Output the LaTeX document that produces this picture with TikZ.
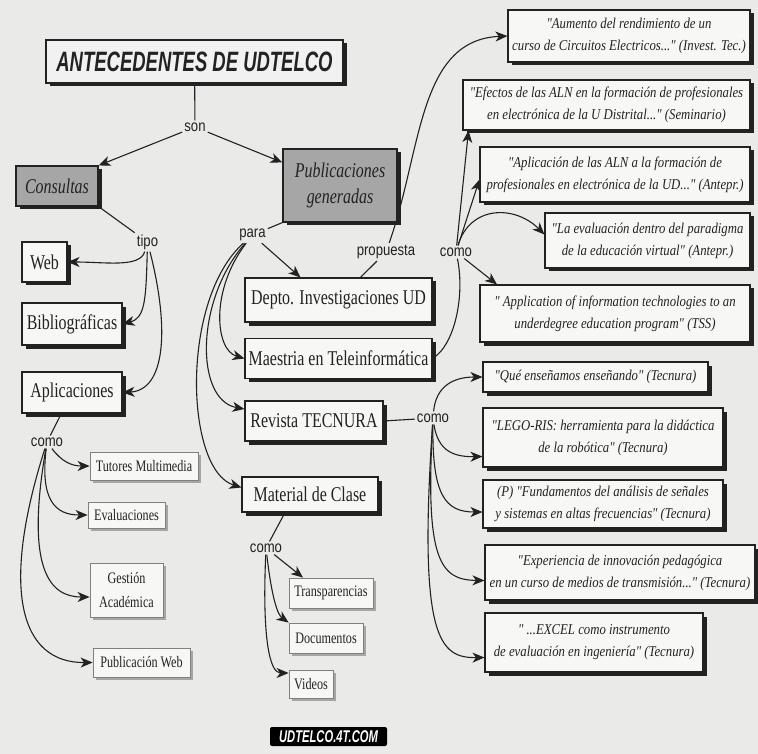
\documentclass[tikz,border=0pt]{standalone}
\usepackage{fontspec}
\setmainfont{Liberation Serif}
\newfontfamily\boxfont[FakeStretch=0.76]{Liberation Serif}
\newfontfamily\papfont[FakeStretch=0.85]{Liberation Serif}
\newfontfamily\labfont[FakeStretch=0.82]{Liberation Sans}
\newfontfamily\titfont[FakeStretch=0.66]{Liberation Sans}
\usetikzlibrary{arrows.meta,shadows}
\definecolor{paper}{HTML}{EAEAE8}
\definecolor{boxfill}{HTML}{F7F7F5}
\definecolor{titlefill}{HTML}{F1F1F1}
\definecolor{darkfill}{HTML}{A6A6A6}
\definecolor{ink}{HTML}{222222}

\begin{document}
\begin{tikzpicture}[x=1pt, y=-1pt, >={Stealth[length=12pt, width=10pt, inset=3.5pt]}]
	\tikzstyle{box} = [draw=ink, fill=boxfill, text=ink, inner sep=0pt, align=center]
	\tikzstyle{mainbox} = [box, line width=1.1pt, drop shadow={shadow xshift=3.5pt, shadow yshift=-3.5pt, fill=ink, opacity=1}, font=\boxfont\fontsize{21}{24}\selectfont]
	\tikzstyle{greybox} = [mainbox, fill=darkfill, font=\boxfont\itshape\fontsize{21}{26}\selectfont]
	\tikzstyle{smallbox} = [box, draw=gray, line width=.8pt, drop shadow={shadow xshift=3pt, shadow yshift=-3pt, fill=gray!70, opacity=1}, font=\boxfont\fontsize{16}{24}\selectfont]
	\tikzstyle{paperbox} = [mainbox, font=\papfont\itshape\fontsize{15}{22}\selectfont]
	\tikzstyle{linkword} = [font=\labfont\fontsize{16}{18}\selectfont, text=ink, inner sep=2pt]
	\tikzstyle{conn} = [draw=ink, line width=1.1pt]
	\useasboundingbox (0,0) rectangle (758,754);
	\fill[paper] (0,0) rectangle (758,754);
	\node[mainbox, fill=titlefill, line width=1.4pt, font=\titfont\bfseries\itshape\fontsize{28}{30}\selectfont, minimum width=297pt, minimum height=43pt] (Title) at (194.5,61.5) {ANTECEDENTES DE UDTELCO};
	\node[greybox, minimum width=82pt, minimum height=40pt] (Consultas) at (57,186) {Consultas};
	\node[greybox, minimum width=114pt, minimum height=73pt] (Publicaciones) at (340,185.5) {Publicaciones\\generadas};
	\node[mainbox, minimum width=45pt, minimum height=40pt] (Web) at (44.5,262) {Web};
	\node[mainbox, minimum width=100pt, minimum height=42pt] (Bibliograficas) at (72,324) {Bibliográficas};
	\node[mainbox, minimum width=100pt, minimum height=41pt] (Aplicaciones) at (72,392.5) {Aplicaciones};
	\node[mainbox, minimum width=187pt, minimum height=44pt] (Depto) at (338.5,300) {Depto. Investigaciones UD};
	\node[mainbox, minimum width=187pt, minimum height=40pt] (Maestria) at (338.5,358.5) {Maestria en Teleinformática};
	\node[mainbox, minimum width=138pt, minimum height=40pt] (Revista) at (314,421) {Revista TECNURA};
	\node[mainbox, minimum width=136pt, minimum height=35pt] (Material) at (310,494.5) {Material de Clase};
	\node[smallbox, minimum width=108pt, minimum height=28pt] (Tutores) at (144,466) {Tutores Multimedia};
	\node[smallbox, minimum width=77pt, minimum height=26pt] (Evaluaciones) at (126.5,515) {Evaluaciones};
	\node[smallbox, minimum width=73pt, minimum height=54pt] (Gestion) at (126.5,590) {Gestión\\Académica};
	\node[smallbox, minimum width=97pt, minimum height=29pt] (PubWeb) at (141.5,662.5) {Publicación Web};
	\node[smallbox, minimum width=84pt, minimum height=30pt] (Transparencias) at (331,593) {Transparencias};
	\node[smallbox, minimum width=74pt, minimum height=30pt] (Documentos) at (326,638) {Documentos};
	\node[smallbox, minimum width=44pt, minimum height=28pt] (Videos) at (311,684) {Videos};
	\node[fill=black, rounded corners=2pt, text=white, inner sep=0pt, minimum width=117pt, minimum height=19pt, font=\titfont\bfseries\itshape\fontsize{17}{19}\selectfont] (Logo) at (328.5,736.5) {UDTELCO.4T.COM};
	\node[paperbox, minimum width=242pt, minimum height=52pt] (Aumento) at (629,36) {"Aumento del rendimiento de un\\curso de Circuitos Electricos..." (Invest. Tec.)};
	\node[paperbox, minimum width=287pt, minimum height=50pt] (Efectos) at (606.5,105) {"Efectos de las ALN en la formación de profesionales\\en electrónica de la U Distrital..." (Seminario)};
	\node[paperbox, minimum width=270pt, minimum height=55pt] (AplicacionALN) at (615,174.5) {"Aplicación de las ALN a la formación de\\profesionales en electrónica de la UD..." (Antepr.)};
	\node[paperbox, minimum width=205pt, minimum height=55pt] (Evaluacion) at (647.5,240.5) {"La evaluación dentro del paradigma\\de la educación virtual" (Antepr.)};
	\node[paperbox, minimum width=270pt, minimum height=57pt] (Application) at (615,313.5) {" Application of information technologies to an\\underdegree education program" (TSS)};
	\node[paperbox, minimum width=225pt, minimum height=30pt] (Que) at (595.5,377) {"Qué enseñamos enseñando" (Tecnura)};
	\node[paperbox, minimum width=240pt, minimum height=59pt] (Lego) at (603,437.5) {"LEGO-RIS: herramienta para la didáctica\\de la robótica" (Tecnura)};
	\node[paperbox, minimum width=240pt, minimum height=48pt] (Fundamentos) at (603,504) {(P) "Fundamentos del análisis de señales\\y sistemas en altas frecuencias" (Tecnura)};
	\node[paperbox, minimum width=270pt, minimum height=55pt] (Experiencia) at (620,572.5) {"Experiencia de innovación pedagógica\\en un curso de medios de transmisión..." (Tecnura)};
	\node[paperbox, minimum width=218pt, minimum height=59pt] (Excel) at (594,642.5) {" ...EXCEL como instrumento\\de evaluación en ingeniería" (Tecnura)};
	\node[linkword] (Son) at (195,127) {son};
	\node[linkword] (Tipo) at (147.5,242) {tipo};
	\node[linkword] (Para) at (252.5,235) {para};
	\node[linkword] (Propuesta) at (386,252) {propuesta};
	\node[linkword] (ComoPub) at (456,252) {como};
	\node[linkword] (ComoRev) at (433,418) {como};
	\node[linkword] (ComoApl) at (47,442) {como};
	\node[linkword] (ComoMat) at (266,548) {como};
	\draw[conn] (Title) -- (Son);
	\draw[conn, ->] (Son) -- (Consultas.north east);
	\draw[conn, ->] (Son) -- ([yshift=-14pt]Publicaciones.north west);
	\draw[conn] (Consultas.south east) -- (Tipo);
	\draw[conn, ->] (Tipo) .. controls (140,268) and (105,262) .. (Web.east);
	\draw[conn, ->] (Tipo) .. controls (146,300) and (145,318) .. (Bibliograficas.east);
	\draw[conn, ->] (Tipo) .. controls (170,330) and (165,390) .. (Aplicaciones.east);
	\draw[conn] (Publicaciones.south west) -- (Para);
	\draw[conn, ->] (Para) -- ([xshift=-38pt]Depto.north);
	\draw[conn, ->] (Para) .. controls (210,290) and (215,350) .. (Maestria.west);
	\draw[conn, ->] (Para) .. controls (195,300) and (195,400) .. ([yshift=12pt]Revista.west);
	\draw[conn, ->] (Para) .. controls (180,300) and (185,470) .. ([yshift=7pt]Material.west);
	\draw[conn] ([xshift=22pt]Depto.north) -- (Propuesta);
	\draw[conn, ->] (Propuesta) .. controls (422,150) and (418,40) .. (Aumento.west);
	\draw[conn] (Maestria.east) .. controls (455,345) and (465,295) .. (ComoPub);
	\draw[conn, ->] (ComoPub) -- ([xshift=-138pt]Efectos.south);
	\draw[conn, ->] (ComoPub) -- ([yshift=-5pt]AplicacionALN.west);
	\draw[conn, ->] (ComoPub) .. controls (470,205) and (515,205) .. ([yshift=6pt]Evaluacion.west);
	\draw[conn, ->] (ComoPub) -- ([xshift=-118pt]Application.north);
	\draw[conn] (Revista.east) -- (ComoRev);
	\draw[conn, ->] (ComoRev) .. controls (436,385) and (455,377) .. (Que.west);
	\draw[conn, ->] (ComoRev) .. controls (438,452) and (455,457) .. ([yshift=-19pt]Lego.west);
	\draw[conn, ->] (ComoRev) .. controls (432,495) and (445,512) .. ([yshift=-8pt]Fundamentos.west);
	\draw[conn, ->] (ComoRev) .. controls (425,560) and (440,580) .. ([yshift=-8pt]Experiencia.west);
	\draw[conn, ->] (ComoRev) .. controls (418,640) and (440,658) .. ([yshift=-15pt]Excel.west);
	\draw[conn] (Aplicaciones) -- (ComoApl);
	\draw[conn, ->] (ComoApl) .. controls (62,462) and (72,466) .. (Tutores.west);
	\draw[conn, ->] (ComoApl) .. controls (40,500) and (55,515) .. (Evaluaciones.west);
	\draw[conn, ->] (ComoApl) .. controls (25,570) and (50,597) .. ([yshift=-7pt]Gestion.west);
	\draw[conn, ->] (ComoApl) .. controls (0,590) and (20,663) .. (PubWeb.west);
	\draw[conn] ([xshift=-25pt]Material.south) -- (ComoMat);
	\draw[conn, ->] (ComoMat) -- ([xshift=-28pt]Transparencias.north);
	\draw[conn, ->] (ComoMat) .. controls (272,600) and (278,615) .. (Documentos.north west);
	\draw[conn, ->] (ComoMat) .. controls (262,640) and (270,673) .. ([yshift=11pt]Videos.west);
\end{tikzpicture}
\end{document}
